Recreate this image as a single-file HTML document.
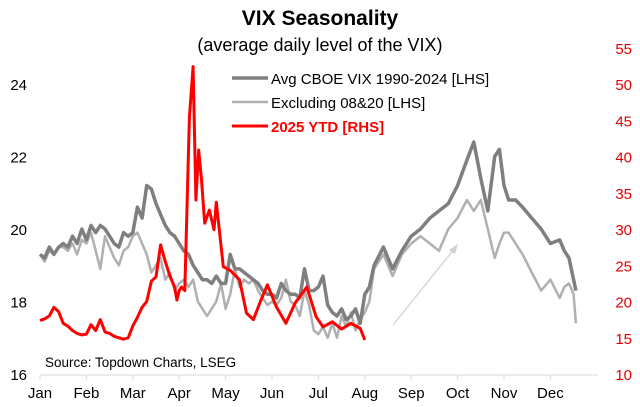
<!DOCTYPE html>
<html><head><meta charset="utf-8"><style>
body{margin:0;background:#fff;}
svg{display:block;font-family:"Liberation Sans",sans-serif;}
</style></head><body>
<svg id="c" width="640" height="407" viewBox="0 0 640 407">
<text x="320" y="25" text-anchor="middle" font-size="21" font-weight="bold" fill="#000">VIX Seasonality</text>
<text x="320" y="51" text-anchor="middle" font-size="18" fill="#000">(average daily level of the VIX)</text>
<g id="axes"></g>
<g id="series"></g>
<line x1="393" y1="325" x2="455" y2="248" stroke="#d0d0d0" stroke-width="1.2"/>
<polygon points="458,244 449,250 455,254" fill="#d0d0d0"/>
<g>
<line x1="232" y1="78" x2="268" y2="78" stroke="#7f7f7f" stroke-width="3.5"/>
<text x="271" y="84" font-size="15" fill="#000">Avg CBOE VIX 1990-2024 [LHS]</text>
<line x1="232" y1="102" x2="268" y2="102" stroke="#b0b0b0" stroke-width="2.5"/>
<text x="271" y="108" font-size="15" fill="#000">Excluding 08&amp;20 [LHS]</text>
<line x1="232" y1="126" x2="268" y2="126" stroke="#ff0000" stroke-width="3"/>
<text x="271" y="132" font-size="15" font-weight="bold" fill="#ff0000">2025 YTD [RHS]</text>
</g>
<text x="45" y="367" font-size="13.5" fill="#000">Source: Topdown Charts, LSEG</text>
</svg>
<script>
const months=["Jan","Feb","Mar","Apr","May","Jun","Jul","Aug","Sep","Oct","Nov","Dec"];
const leftTicks=[16,18,20,22,24];
const rightTicks=[10,15,20,25,30,35,40,45,50,55];
const avgT=[0,0.1,0.2,0.3,0.4,0.5,0.6,0.7,0.8,0.9,1,1.1,1.2,1.3,1.4,1.5,1.6,1.7,1.8,1.9,2,2.1,2.2,2.3,2.4,2.5,2.6,2.7,2.8,2.9,3,3.1,3.2,3.3,3.4,3.5,3.6,3.7,3.8,3.9,4,4.1,4.2,4.3,4.4,4.5,4.6,4.7,4.8,4.9,5,5.1,5.2,5.3,5.4,5.5,5.6,5.7,5.8,5.9,6,6.1,6.2,6.3,6.4,6.5,6.6,6.7,6.8,6.9,7,7.1,7.2,7.4,7.6,7.8,8,8.2,8.4,8.6,8.8,9,9.2,9.35,9.5,9.65,9.8,9.9,10,10.1,10.25,10.4,10.6,10.8,11,11.2,11.3,11.4,11.5,11.55];
const avgV=[19.3,19.2,19.5,19.3,19.5,19.6,19.5,19.8,19.6,20.0,19.7,20.1,19.9,20.1,20.0,19.8,19.6,19.5,19.9,19.8,19.9,20.6,20.3,21.2,21.1,20.7,20.4,20.1,19.9,19.8,19.6,19.4,19.3,19.0,18.8,18.6,18.6,18.5,18.7,18.5,18.5,19.3,18.9,18.9,18.8,18.7,18.6,18.5,18.3,18.2,18.2,18.1,18.5,18.3,18.2,18.2,18.1,18.9,18.3,18.3,18.4,18.7,17.9,17.7,17.6,17.8,17.5,17.6,17.8,17.4,18.2,18.4,19.0,19.5,18.9,19.4,19.8,20.0,20.3,20.5,20.7,21.2,21.9,22.4,21.4,20.5,22.0,22.2,21.2,20.8,20.8,20.6,20.3,20.0,19.6,19.7,19.4,19.2,18.6,18.3];
const exclT=[0,0.1,0.2,0.3,0.4,0.5,0.6,0.7,0.8,0.9,1,1.1,1.2,1.3,1.4,1.5,1.6,1.7,1.8,1.9,2,2.1,2.2,2.3,2.4,2.5,2.6,2.7,2.8,2.9,3,3.1,3.2,3.3,3.4,3.5,3.6,3.7,3.8,3.9,4,4.1,4.2,4.3,4.4,4.5,4.6,4.7,4.8,4.9,5,5.1,5.2,5.3,5.4,5.5,5.6,5.7,5.8,5.9,6,6.1,6.2,6.3,6.4,6.5,6.6,6.7,6.8,6.9,7,7.1,7.2,7.4,7.6,7.8,8,8.2,8.4,8.6,8.8,9,9.2,9.35,9.5,9.65,9.8,9.9,10,10.1,10.25,10.4,10.6,10.8,11,11.2,11.3,11.4,11.5,11.55];
const exclV=[19.3,19.1,19.4,19.3,19.5,19.5,19.4,19.6,19.3,19.7,19.6,19.9,19.4,18.9,19.8,19.5,19.2,19.0,19.4,19.5,19.8,19.9,19.6,19.3,18.8,19.0,19.2,18.6,18.8,18.3,18.5,18.6,18.4,18.6,18.0,17.8,17.6,17.8,18.0,18.5,17.8,18.2,18.9,18.4,18.6,18.5,18.6,18.3,18.1,17.9,18.0,17.9,18.1,18.6,18.0,17.9,17.6,18.3,17.9,17.2,17.1,17.3,17.0,17.4,17.0,17.6,17.3,17.7,17.2,17.5,17.7,18.0,18.9,19.3,18.7,19.3,19.6,19.8,19.6,19.4,20.0,20.3,20.8,20.5,20.8,20.0,19.2,19.6,19.9,19.9,19.6,19.3,18.8,18.3,18.6,18.1,18.4,18.5,18.2,17.4,17.5];
const ytdT=[0,0.1,0.2,0.3,0.4,0.5,0.6,0.7,0.8,0.9,1,1.1,1.2,1.3,1.4,1.5,1.6,1.7,1.8,1.9,2,2.1,2.2,2.3,2.4,2.5,2.6,2.7,2.8,2.9,2.95,3.0,3.05,3.12,3.22,3.3,3.36,3.42,3.48,3.55,3.65,3.75,3.8,3.95,4.1,4.3,4.45,4.6,4.75,4.9,5.1,5.3,5.5,5.75,5.95,6.1,6.3,6.5,6.7,6.9,7.0];
const ytdV=[17.4,17.6,18.0,19.2,18.6,17.0,16.6,16.0,15.6,15.4,15.5,16.8,16.0,17.5,15.8,15.6,15.2,15.0,14.8,15.0,16.6,17.8,19.2,20.0,22.8,23.4,27.8,25.5,23.5,22.0,20.2,21.5,22.0,21.5,45.4,52.4,34.0,40.9,36.8,30.8,32.6,29.9,33.7,24.8,24.3,23.0,18.4,17.5,20.0,22.3,19.2,17.0,19.8,22.0,17.9,16.5,17.2,16.2,17.0,16.3,14.7];
const X0=40,MW=46.4;
function xs(m){return X0+m*MW;}
function yl(v){return 374-(v-16)*36.25;}
function yr(v){return 374-(v-10)*7.25;}
const NS="http://www.w3.org/2000/svg";
const ax=document.getElementById('axes'),sg=document.getElementById('series');
function mk(tag,attrs,parent){const e=document.createElementNS(NS,tag);for(const k in attrs)e.setAttribute(k,attrs[k]);parent.appendChild(e);return e;}
const base=mk('line',{x1:X0,y1:375,x2:598,y2:375,stroke:'#d9d9d9','stroke-width':1},ax);


months.forEach((m,i)=>{
  const t=mk('line',{x1:xs(i),y1:375,x2:xs(i),y2:380,stroke:'#d9d9d9'},ax);
  
  
  const tx=mk('text',{x:xs(i),y:398,'text-anchor':'middle','font-size':15,fill:'#000'},ax);
  tx.textContent=m;
  
  
});
leftTicks.forEach(v=>{
  const tx=mk('text',{x:27,y:yl(v)+6,'text-anchor':'end','font-size':15,fill:'#000'},ax);
  tx.textContent=v;
  
  
});
rightTicks.forEach(v=>{
  const tx=mk('text',{x:632,y:yr(v)+6,'text-anchor':'end','font-size':15,fill:'#e00000'},ax);
  tx.textContent=v;
  
  
});
function line(T,V,fy,col,w,name){
  const d=T.map((t,i)=>(i?'L':'M')+xs(t).toFixed(1)+','+fy(V[i]).toFixed(1)).join('');
  const p=mk('path',{d:d,fill:'none',stroke:col,'stroke-width':w,'stroke-linejoin':'round'},sg);
  
  
}
line(exclT,exclV,yl,'#b0b0b0',2.5,'excl-08-20-line');
line(avgT,avgV,yl,'#7f7f7f',3.5,'avg-vix-line');
line(ytdT,ytdV,yr,'#ff0000',3,'ytd-2025-line');
</script>
</body></html>
